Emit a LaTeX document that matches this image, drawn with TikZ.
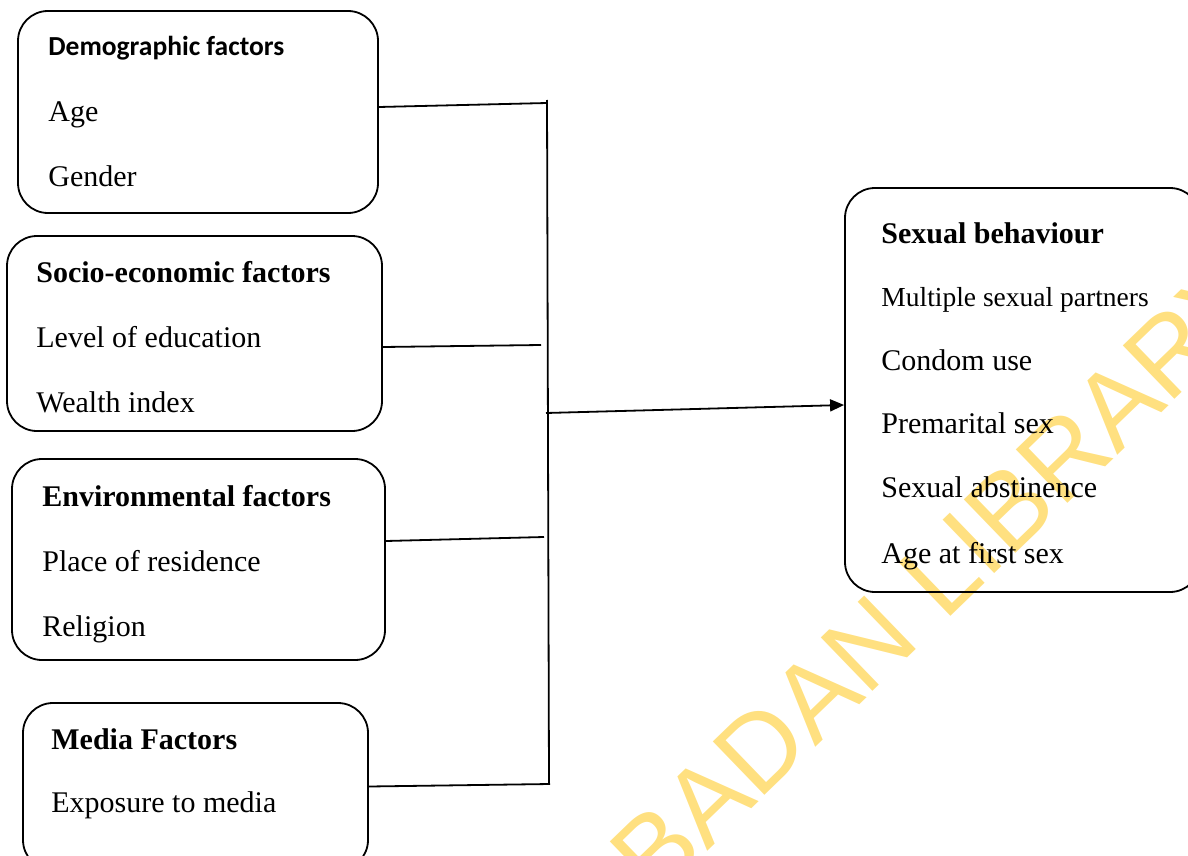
\documentclass[tikz,border=0pt]{standalone}
\usepackage{fontspec}
\setmainfont{Liberation Serif}
\newfontfamily\calib{Carlito}
\newfontfamily\wmfont{Liberation Sans}
\usetikzlibrary{arrows.meta}
\definecolor{wmyellow}{RGB}{255,224,128}
\begin{document}
\begin{tikzpicture}[x=0.5pt,y=-0.5pt,
  box/.style={draw,line width=0.9pt,rounded corners=15pt,inner sep=0pt},
  txt/.style={anchor=base west,inner sep=0pt,font=\fontsize{15}{18}\selectfont},
  txtsm/.style={anchor=base west,inner sep=0pt,font=\fontsize{13.75}{16}\selectfont},
  ttl/.style={anchor=base west,inner sep=0pt,font=\fontsize{15}{18}\selectfont\bfseries},
  ttlsans/.style={anchor=base west,inner sep=0pt,font=\fontsize{13.75}{16}\selectfont\calib\bfseries},
  wm/.style={anchor=base west,inner sep=0pt,text=wmyellow,font=\fontsize{54}{60}\selectfont\wmfont},
  conn/.style={line width=0.9pt},
  arr/.style={line width=0.9pt,-{Triangle[length=7pt,width=6pt]}}]
\useasboundingbox (0,0) rectangle (1188,856);
\clip (0,0) rectangle (1188,856);
% watermark
\node[wm,rotate=44] (wmark) at (655,902) {BADAN LIBRARY};
% boxes
\node[box,minimum width=180pt,minimum height=101pt] (demo) at (198,112) {};
\node[box,minimum width=187.5pt,minimum height=97.5pt] (socio) at (194.5,333.5) {};
\node[box,minimum width=186.5pt,minimum height=100.5pt] (env) at (198.5,559.5) {};
\node[box,minimum width=172.5pt,minimum height=83.5pt] (media) at (195.5,786.5) {};
\node[box,minimum width=177.5pt,minimum height=202pt] (sex) at (1022.5,390) {};
% texts
\node[ttlsans] (t1a) at (48,56) {Demographic factors};
\node[txt] (t1b) at (48,122) {Age};
\node[txt] (t1c) at (48,186) {Gender};
\node[ttl] (t2a) at (36,282) {Socio-economic factors};
\node[txt] (t2b) at (36,347) {Level of education};
\node[txt] (t2c) at (36,412) {Wealth index};
\node[ttl] (t3a) at (42,506) {Environmental factors};
\node[txt] (t3b) at (42,571) {Place of residence};
\node[txt] (t3c) at (42,636) {Religion};
\node[ttl] (t4a) at (51,749) {Media Factors};
\node[txt] (t4b) at (51,812) {Exposure to media};
\node[ttl] (t5a) at (881,243) {Sexual behaviour};
\node[txtsm] (t5b) at (881,306) {Multiple sexual partners};
\node[txt] (t5c) at (881,370) {Condom use};
\node[txt] (t5d) at (881,433) {Premarital sex};
\node[txt] (t5e) at (881,497) {Sexual abstinence};
\node[txt] (t5f) at (881,563) {Age at first sex};
% bus and connectors
\coordinate (bt) at (547,100);
\coordinate (bb) at (549,784);
\coordinate (c1) at (547,103);
\coordinate (c2) at (541,345);
\coordinate (c3) at (544,537);
\coordinate (c4) at (550,784);
\coordinate (a0) at (546,413);
\draw[conn] (bt) -- (bb);
\draw[conn] ([yshift=2.5pt]demo.east) -- (c1);
\draw[conn] ([yshift=-6.75pt]socio.east) -- (c2);
\draw[conn] ([yshift=9.25pt]env.east) -- (c3);
\draw[conn] (media.east) -- (c4);
\draw[arr] (a0) -- ([yshift=-7.5pt]sex.west);
\end{tikzpicture}
\end{document}
